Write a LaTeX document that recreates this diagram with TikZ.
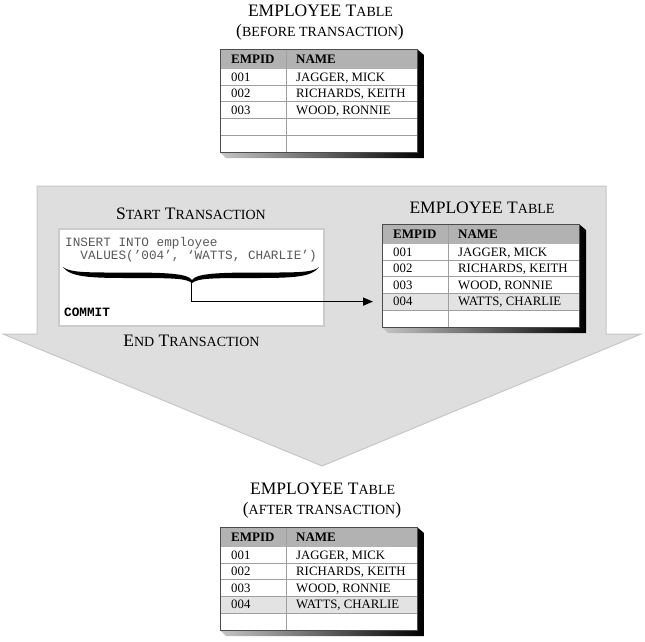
\documentclass[tikz,border=0pt]{standalone}
\usepackage{fontspec}
\setmainfont{Liberation Serif}
\newfontfamily\codefont{Liberation Mono}
\usetikzlibrary{arrows.meta}

% smaller capitals for the fake small-caps titles
\newcommand\smc[1]{{\fontsize{14}{16}\selectfont #1}}

% one employee table: name, left x, top y, fourth row shown (0/1)
\newcommand\emptable[4]{%
  \begin{scope}[shift={(#2,#3)}]
    \shade[left color=gray!45, right color=black]
      (197,0) -- (204,6) -- (204,109) -- (6,109) -- (0,103) -- cycle;
    \fill[white] (0,0) rectangle (197,103);
    \fill[gray!60] (0,0) rectangle (197,19.5);
    \ifnum#4=1 \fill[gray!22] (0,69.3) rectangle (197,85.9);\fi
    \foreach \k in {1,...,4}
      \draw[gridline] (0,{19.5+16.6*\k}) -- (197,{19.5+16.6*\k});
    \draw[gridline] (66,0) -- (66,103);
    \draw[gray!60!black, line width=0.9] (0,0) rectangle (197,103);
    \coordinate (#1-r4) at (0,77.6);
    \node[headtext] (#1-hid) at (11,14.5) {EMPID};
    \node[headtext] (#1-hname) at (76,14.5) {NAME};
    \node[celltext] (#1-id1) at (11,32.0) {001};
    \node[celltext] (#1-nm1) at (76,32.0) {JAGGER, MICK};
    \node[celltext] (#1-id2) at (11,48.6) {002};
    \node[celltext] (#1-nm2) at (76,48.6) {RICHARDS, KEITH};
    \node[celltext] (#1-id3) at (11,65.2) {003};
    \node[celltext] (#1-nm3) at (76,65.2) {WOOD, RONNIE};
    \ifnum#4=1
      \node[celltext] (#1-id4) at (11,81.8) {004};
      \node[celltext] (#1-nm4) at (76,81.8) {WATTS, CHARLIE};
    \fi
  \end{scope}}

\begin{document}
\begin{tikzpicture}[x=1pt, y=-1pt,
  title/.style={font=\fontsize{17.5}{20}\selectfont, anchor=base, inner sep=0pt},
  celltext/.style={font=\fontsize{12.8}{14}\selectfont, anchor=base west, inner sep=0pt, text=black},
  headtext/.style={celltext, font=\fontsize{13}{14}\selectfont\bfseries},
  code/.style={font=\codefont\fontsize{12.7}{14}\selectfont, anchor=base west, inner sep=0pt, text=black!65},
  gridline/.style={draw=gray!75, line width=0.6pt},
  conn/.style={line width=1.6pt, -{Triangle[length=10pt,width=8pt]}, shorten >=9pt}]
\useasboundingbox (0,0) rectangle (645,641);

% broad downward arrow holding the transaction
\filldraw[fill=gray!26, draw=gray!45, line width=1pt]
  (37,186) -- (606,186) -- (606,334) -- (641,334) -- (322,466)
  -- (3,334) -- (37,334) -- cycle;

% table before the transaction
\node[title] (t1a) at (320.5,16.7) {EMPLOYEE T\smc{ABLE}};
\node[title] (t1b) at (320,36.7) {(\smc{BEFORE TRANSACTION})};
\emptable{before}{220}{49}{0}

% the transaction
\node[title] (start) at (191,219) {S\smc{TART} T\smc{RANSACTION}};
\node[draw=gray!40, fill=white, line width=1.5pt, minimum width=265pt,
      minimum height=97pt, anchor=north west, inner sep=0pt] (codebox) at (58,228) {};
\node[code] (line1) at (65,246) {INSERT INTO employee};
\node[code] (line2) at (65,259.5) {\phantom{II}VALUES(’004’, ‘WATTS, CHARLIE’)};
\node[code, font=\codefont\fontsize{12.7}{14}\selectfont\bfseries, text=black] (commit) at (64,316.7) {COMMIT};
\node[title] (end) at (191.5,346.7) {E\smc{ND} T\smc{RANSACTION}};

% brace under the statement
\fill[black]
  (63,267) .. controls (70,273) and (90,272.5) .. (128,272.5)
  .. controls (170,272.5) and (188,274) .. (192,280)
  .. controls (196,274) and (214,272.5) .. (256,272.5)
  .. controls (294,272.5) and (313,273) .. (319,267)
  .. controls (312,277) and (294,278) .. (256,278)
  .. controls (214,278) and (198,278) .. (192,283)
  .. controls (186,278) and (170,278) .. (128,278)
  .. controls (90,278) and (70,277) .. (63,267) -- cycle;
\coordinate (brtip) at (191.5,281);

% table inside the transaction
\node[title] (t2) at (482,213.3) {EMPLOYEE T\smc{ABLE}};
\emptable{during}{382}{224}{1}
\draw[conn] (brtip) |- (during-r4);

% table after the transaction
\node[title] (t3a) at (322.7,494) {EMPLOYEE T\smc{ABLE}};
\node[title] (t3b) at (322,514) {(\smc{AFTER TRANSACTION})};
\emptable{after}{220}{527}{1}
\end{tikzpicture}
\end{document}
